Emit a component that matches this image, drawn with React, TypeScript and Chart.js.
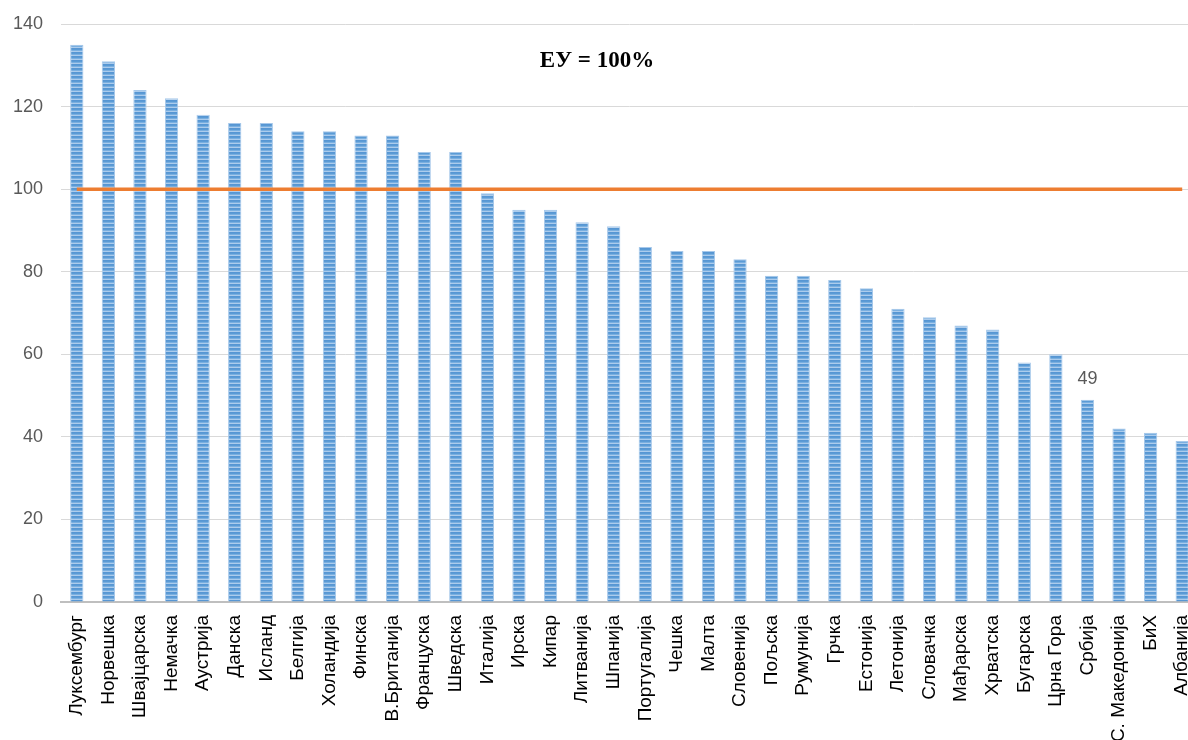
import React, { useEffect, useRef } from "react";
import { Chart, registerables } from "chart.js";

Chart.register(...registerables);

const categories = [
  "Луксембург", "Норвешка", "Швајцарска", "Немачка", "Аустрија", "Данска",
  "Исланд", "Белгија", "Холандија", "Финска", "В.Британија", "Француска",
  "Шведска", "Италија", "Ирска", "Кипар", "Литванија", "Шпанија",
  "Португалија", "Чешка", "Малта", "Словенија", "Пољска", "Румунија",
  "Грчка", "Естонија", "Летонија", "Словачка", "Мађарска", "Хрватска",
  "Бугарска", "Црна Гора", "Србија", "С. Македонија", "БиХ", "Албанија",
];

const values = [
  135, 131, 124, 122, 118, 116, 116, 114, 114, 113, 113, 109,
  109, 99, 95, 95, 92, 91, 86, 85, 85, 83, 79, 79,
  78, 76, 71, 69, 67, 66, 58, 60, 49, 42, 41, 39,
];

const euLevel = categories.map(() => 100);
const highlightIndex = 32;
const titleText = "ЕУ = 100%";
const yTicks = [0, 20, 40, 60, 80, 100, 120, 140];

function makePattern(): CanvasPattern | string {
  const c = document.createElement("canvas");
  c.width = 4;
  c.height = 4;
  const g = c.getContext("2d");
  if (!g) return "#6fa6dc";
  const rows = ["#5796d3", "#5b9bd5", "#7aafe0", "#acccec"];
  rows.forEach((col, i) => {
    g.fillStyle = col;
    g.fillRect(0, i, 4, 1);
  });
  const main = document.createElement("canvas").getContext("2d");
  const p = main ? main.createPattern(c, "repeat") : null;
  return p || "#6fa6dc";
}

export default function App() {
  const ref = useRef<HTMLCanvasElement | null>(null);

  useEffect(() => {
    if (!ref.current) return;
    const pattern = makePattern();

    const overlay = {
      id: "overlay",
      afterDatasetsDraw(chart: any) {
        const { ctx } = chart;
        ctx.save();
        ctx.fillStyle = "#000000";
        ctx.font = "bold 23px 'Liberation Serif', 'Times New Roman', serif";
        ctx.textAlign = "center";
        ctx.textBaseline = "middle";
        ctx.fillText(titleText, 597, 61);

        const meta = chart.getDatasetMeta(1);
        const bar = meta.data[highlightIndex];
        if (bar) {
          ctx.fillStyle = "#595959";
          ctx.font = "18px 'Liberation Sans', Arial, sans-serif";
          ctx.textAlign = "center";
          ctx.textBaseline = "middle";
          ctx.fillText(String(values[highlightIndex]), bar.x, bar.y - 21);
        }
        ctx.restore();
      },
    };

    const chart = new Chart(ref.current, {
      type: "bar",
      data: {
        labels: categories,
        datasets: [
          {
            type: "line",
            data: euLevel,
            borderColor: "#ed7d31",
            borderWidth: 3.5,
            pointRadius: 0,
            fill: false,
            order: 0,
          } as any,
          {
            type: "bar",
            data: values,
            backgroundColor: pattern as any,
            borderColor: "#a6c8ea",
            borderWidth: 1,
            categoryPercentage: 1,
            barPercentage: 0.42,
            order: 1,
          },
        ],
      },
      options: {
        responsive: false,
        animation: false,
        devicePixelRatio: 1,
        layout: { padding: { top: 24, left: 0, right: 0, bottom: 0 } },
        plugins: {
          legend: { display: false },
          tooltip: { enabled: false },
          title: { display: false },
        },
        scales: {
          x: {
            offset: true,
            grid: { display: false, drawTicks: false },
            border: { display: true, color: "#bfbfbf", width: 2 },
            ticks: {
              autoSkip: false,
              maxRotation: 90,
              minRotation: 90,
              padding: 13,
              color: "#000000",
              font: { family: "'Liberation Sans', Arial, sans-serif", size: 19 },
            },
            afterFit(scale: any) {
              scale.height = 138;
            },
          },
          y: {
            min: 0,
            max: 140,
            afterBuildTicks(scale: any) {
              scale.ticks = yTicks.map((v) => ({ value: v }));
            },
            grid: { color: "#d9d9d9", lineWidth: 1, drawTicks: false },
            border: { display: false },
            ticks: {
              padding: 18,
              color: "#595959",
              font: { family: "'Liberation Sans', Arial, sans-serif", size: 18 },
            },
            afterFit(scale: any) {
              scale.width = 61;
              scale.paddingTop = 0;
              scale.paddingBottom = 0;
            },
          },
        },
      },
      plugins: [overlay],
    });

    return () => chart.destroy();
  }, []);

  return (
    <div
      style={{
        position: "fixed",
        left: 0,
        top: 0,
        width: 1188,
        height: 740,
        overflow: "hidden",
        background: "#ffffff",
      }}
    >
      <canvas ref={ref} width={1218} height={740} style={{ display: "block" }} />
    </div>
  );
}
